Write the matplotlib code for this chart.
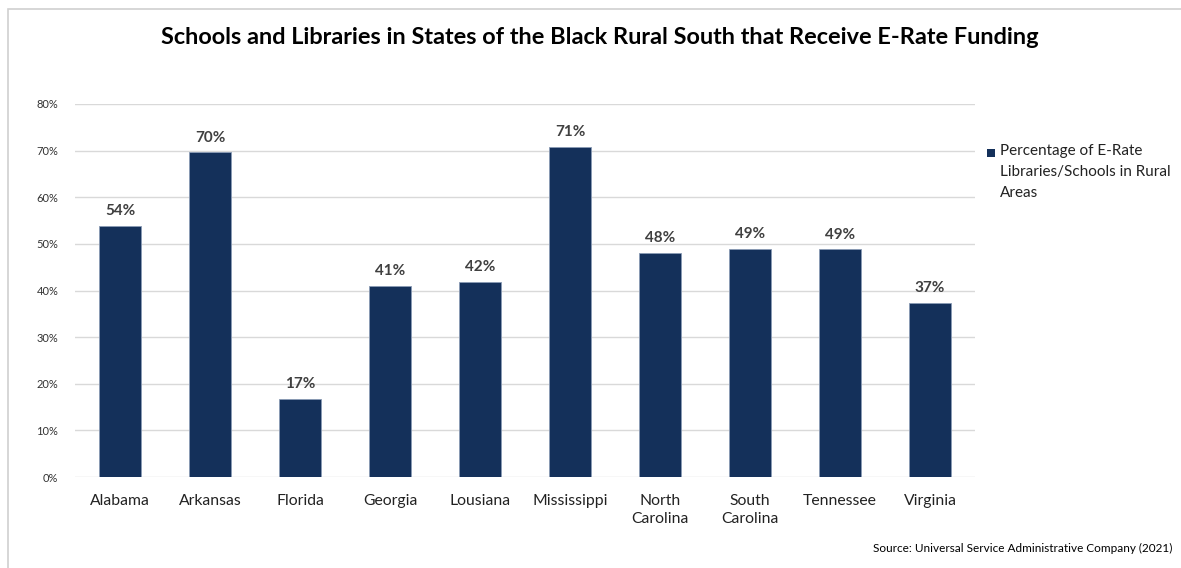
import matplotlib
matplotlib.use("Agg")
import matplotlib.pyplot as plt
from matplotlib.patches import Rectangle

states = ["Alabama", "Arkansas", "Florida", "Georgia", "Lousiana", "Mississippi",
          "North\nCarolina", "South\nCarolina", "Tennessee", "Virginia"]
values = [53.8, 69.6, 16.7, 41.0, 41.8, 70.7, 48.0, 49.0, 48.8, 37.4]
yticks = [0, 10, 20, 30, 40, 50, 60, 70, 80]
series_name = "Percentage of E-Rate\nLibraries/Schools in Rural\nAreas"
title = "Schools and Libraries in States of the Black Rural South that Receive E-Rate Funding"
source = "Source: Universal Service Administrative Company (2021)"

plt.rcParams['font.family'] = ['Lato', 'DejaVu Sans']
bar_color = "#14305A"
text_color = "#404040"

fig = plt.figure(figsize=(11.81, 5.68), dpi=100)
fig.patches.append(Rectangle((8/1181, -0.05), 1, 1.05 - 9/568, transform=fig.transFigure,
                             fill=False, edgecolor="#d0d0d0", linewidth=1.2))
ax = fig.add_axes([75/1181, 1 - 477/568, 900/1181, 373/568])

x = range(len(states))
bars = ax.bar(x, values, width=0.47, color=bar_color, edgecolor="#8a9bb5",
              linewidth=0.6, label=series_name, zorder=3)
for xi, v in zip(x, values):
    ax.text(xi, v + 1.7, f"{round(v)}%", ha="center", va="bottom",
            fontsize=11, fontweight="bold", color=text_color)

ax.set_xlim(-0.5, len(states) - 0.5)
ax.set_ylim(0, 80)
ax.set_yticks(yticks)
ax.set_yticklabels([f"{t}%" for t in yticks], fontsize=8, color="#333333")
ax.set_xticks(list(x))
ax.set_xticklabels(states, fontsize=11.3, color="#222222", linespacing=1.35)
ax.tick_params(axis="both", length=0)
ax.tick_params(axis="y", pad=12)
ax.tick_params(axis="x", pad=12)
ax.grid(axis="y", color="#d9d9d9", linewidth=1, zorder=0)
for s in ax.spines.values():
    s.set_visible(False)

fig.text(600/1181, 1 - 38/568, title, ha="center", va="center",
         fontsize=16.9, fontweight="bold", color="black")
fig.text(1172/1181, 1 - 548/568, source, ha="right", va="center",
         fontsize=8.5, color="black")

# legend: square marker aligned with first text line
fig.patches.append(Rectangle((987/1181, 1 - 157/568), 8/1181, 8/568,
                             transform=fig.transFigure, facecolor=bar_color,
                             edgecolor="none"))
fig.text(1000/1181, 1 - 144/568, series_name, ha="left", va="top",
         fontsize=11, color="#222222", linespacing=1.62)

fig.savefig("out.png", dpi=100)
